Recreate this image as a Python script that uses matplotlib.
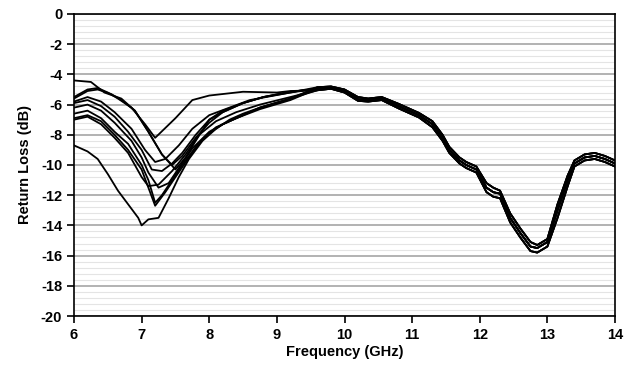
import numpy as np
import matplotlib
matplotlib.use("Agg")
import matplotlib.pyplot as plt
from matplotlib.ticker import MultipleLocator

plt.rcParams['font.family'] = ['Liberation Sans', 'DejaVu Sans']
plt.rcParams['font.weight'] = 'bold'
plt.rcParams['axes.unicode_minus'] = False

# 6 - 9.6 GHz: each sample has its own path
head_x = [
    [6.0, 6.25, 6.45, 6.7, 6.9, 7.1, 7.3, 7.45, 7.6, 7.8, 8.0, 8.2, 8.5, 8.8, 9.2],
    [6.0, 6.2, 6.35, 6.5, 6.65, 6.85, 7.05, 7.2, 7.5, 7.75, 8.0, 8.5, 9.0, 9.2],
    [6.0, 6.2, 6.35, 6.55, 6.7, 6.9, 7.1, 7.3, 7.5, 7.65, 7.8, 8.0, 8.2, 8.5, 8.8, 9.2],
    [6.0, 6.2, 6.4, 6.6, 6.8, 7.0, 7.15, 7.3, 7.45, 7.6, 7.8, 8.0, 8.2, 8.5, 8.8, 9.2],
    [6.0, 6.2, 6.4, 6.6, 6.85, 7.0, 7.1, 7.25, 7.4, 7.55, 7.75, 8.0, 8.2, 8.5, 8.75, 9.2],
    [6.0, 6.2, 6.4, 6.6, 6.8, 7.0, 7.1, 7.2, 7.3, 7.45, 7.6, 7.8, 8.0, 8.2, 8.5, 8.75, 9.2],
    [6.0, 6.2, 6.4, 6.6, 6.8, 7.0, 7.1, 7.2, 7.35, 7.5, 7.7, 7.9, 8.1, 8.4, 8.75, 9.2],
    [6.0, 6.2, 6.4, 6.6, 6.8, 7.0, 7.1, 7.25, 7.45, 7.65, 7.85, 8.1, 8.4, 8.75, 9.2],
    [6.0, 6.2, 6.35, 6.5, 6.65, 6.8, 6.95, 7.0, 7.1, 7.25, 7.4, 7.55, 7.7, 7.9, 8.1, 8.3, 8.5, 8.75, 9.2],
    [6.0, 6.2, 6.4, 6.6, 6.85, 7.05, 7.2, 7.35, 7.55, 7.75, 8.0, 8.3, 8.6, 9.2],
]
head_y = [
    [-4.4, -4.5, -5.2, -5.6, -6.4, -7.8, -9.3, -10.0, -9.4, -8.2, -7.2, -6.5, -5.9, -5.5, -5.15],
    [-5.5, -5.0, -4.9, -5.2, -5.6, -6.2, -7.3, -8.2, -6.9, -5.7, -5.4, -5.15, -5.2, -5.1],
    [-5.6, -5.1, -5.0, -5.3, -5.7, -6.4, -7.8, -9.3, -10.3, -9.5, -8.4, -7.0, -6.4, -5.9, -5.5, -5.2],
    [-5.9, -5.7, -6.1, -6.8, -7.8, -9.0, -10.3, -10.4, -9.9, -9.2, -8.0, -7.0, -6.5, -5.9, -5.5, -5.15],
    [-6.2, -6.0, -6.4, -7.2, -8.4, -9.5, -10.5, -11.5, -11.2, -10.2, -8.9, -7.8, -7.3, -6.7, -6.2, -5.6],
    [-6.6, -6.4, -6.9, -7.8, -8.6, -10.0, -11.0, -12.5, -12.0, -11.0, -10.0, -8.8, -7.9, -7.3, -6.7, -6.2, -5.65],
    [-6.9, -6.7, -7.1, -8.0, -9.0, -10.3, -11.5, -12.7, -11.8, -10.8, -9.5, -8.3, -7.5, -6.9, -6.3, -5.7],
    [-7.0, -6.8, -7.3, -8.2, -9.2, -10.8, -11.4, -11.3, -10.4, -9.3, -8.0, -7.1, -6.5, -6.0, -5.5],
    [-8.7, -9.1, -9.6, -10.6, -11.7, -12.6, -13.5, -14.0, -13.6, -13.5, -12.2, -10.8, -9.6, -8.4, -7.6, -7.0, -6.6, -6.2, -5.6],
    [-5.8, -5.5, -5.8, -6.5, -7.6, -9.0, -9.8, -9.6, -8.7, -7.6, -6.7, -6.2, -5.7, -5.2],
]

# 9.6 - 14 GHz: the samples collapse onto three near-identical paths
tail_x = [9.6, 9.8, 10.0, 10.2, 10.35, 10.55, 10.8, 11.1, 11.3, 11.45, 11.55, 11.7, 11.8,
          11.95, 12.1, 12.2, 12.3, 12.45, 12.6, 12.75, 12.85, 13.0, 13.15, 13.3, 13.4,
          13.55, 13.7, 13.85, 14.0]
tail_a = [-4.95, -4.9, -5.1, -5.65, -5.7, -5.6, -6.1, -6.7, -7.3, -8.2, -9.0, -9.7, -10.0,
          -10.3, -11.5, -11.8, -11.9, -13.5, -14.5, -15.4, -15.5, -15.1, -13.0, -11.0, -9.9,
          -9.5, -9.4, -9.6, -9.9]
tail_b = [-5.05, -4.95, -5.2, -5.75, -5.8, -5.7, -6.25, -6.85, -7.5, -8.4, -9.2, -9.9, -10.2,
          -10.5, -11.8, -12.1, -12.2, -13.8, -14.8, -15.7, -15.8, -15.4, -13.5, -11.4, -10.1,
          -9.7, -9.6, -9.8, -10.1]
tail_c = [-4.85, -4.8, -5.0, -5.5, -5.6, -5.5, -5.95, -6.55, -7.1, -8.0, -8.8, -9.5, -9.8,
          -10.1, -11.2, -11.5, -11.7, -13.2, -14.2, -15.1, -15.3, -14.9, -12.6, -10.7, -9.7,
          -9.3, -9.2, -9.4, -9.7]
tails = [tail_a, tail_b, tail_c, tail_a, tail_b, tail_c, tail_a, tail_b, tail_c, tail_a]

x_ticks = [6, 7, 8, 9, 10, 11, 12, 13, 14]
y_ticks = [0, -2, -4, -6, -8, -10, -12, -14, -16, -18, -20]

fig = plt.figure(figsize=(6.32, 3.67), dpi=100)
ax = fig.add_axes([74 / 632, 1 - 316 / 367, 541 / 632, 302 / 367])

for hx, hy, ty in zip(head_x, head_y, tails):
    xs = hx + tail_x
    ys = hy + ty
    ax.plot(xs, ys, color='black', lw=1.3, zorder=3)

ax.set_xlim(6, 14)
ax.set_ylim(-20, 0)
ax.set_xticks(x_ticks)
ax.set_yticks(y_ticks)
ax.yaxis.set_minor_locator(MultipleLocator(0.4))
ax.grid(axis='y', which='major', color='#a6a6a6', lw=1.2, zorder=1)
ax.grid(axis='y', which='minor', color='#e4e4e4', lw=0.8, zorder=0)
ax.tick_params(axis='both', which='major', direction='out', length=5, width=1.2,
               labelsize=10.5, colors='black')
ax.tick_params(axis='y', which='minor', length=0)
for lab in ax.get_xticklabels() + ax.get_yticklabels():
    lab.set_fontweight('bold')
for sp in ax.spines.values():
    sp.set_color('black')
    sp.set_linewidth(1.2)

ax.set_xlabel('Frequency (GHz)', fontsize=10.5, fontweight='bold', labelpad=2)
ax.set_ylabel('Return Loss (dB)', fontsize=10.5, fontweight='bold', labelpad=6)

fig.savefig('out.png', dpi=100)
